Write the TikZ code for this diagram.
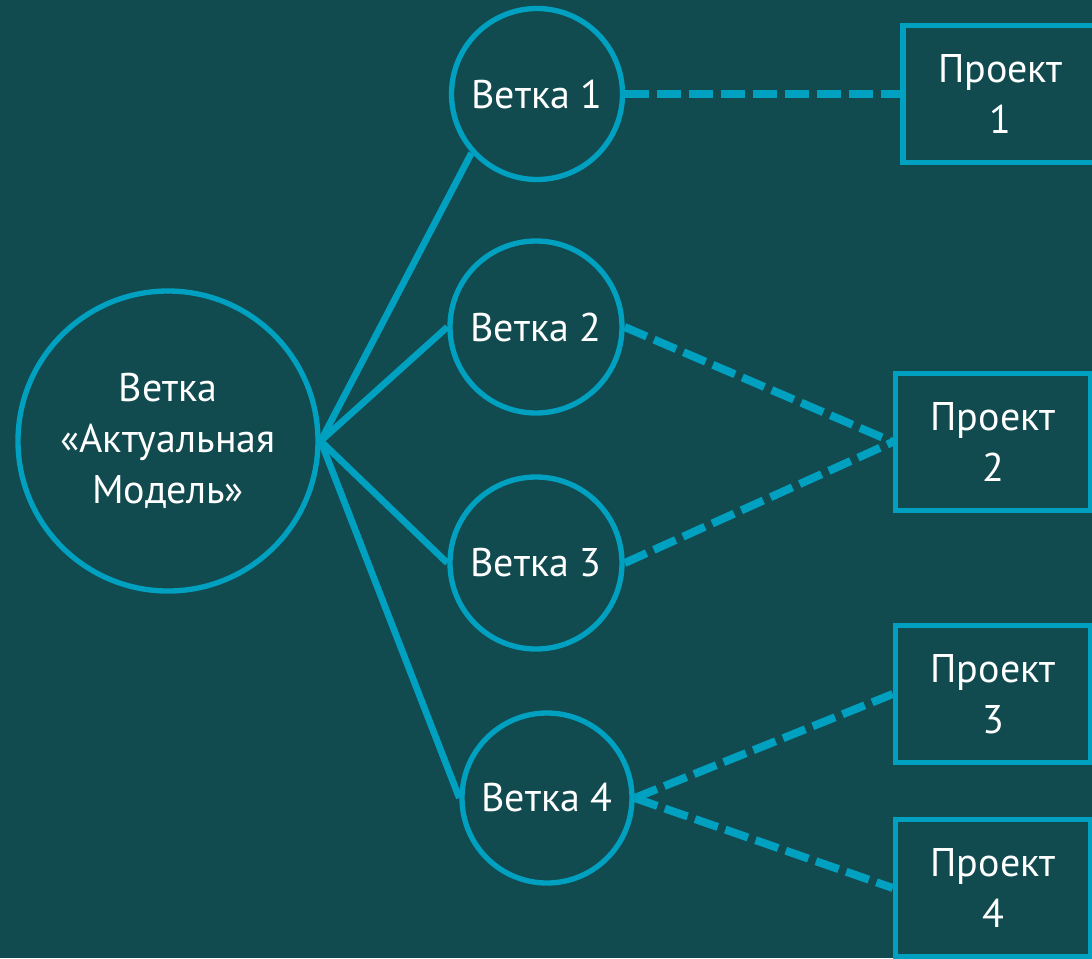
\documentclass[tikz,border=0pt]{standalone}
\usepackage{fontspec}
\setmainfont{PT Sans}
\definecolor{bg}{HTML}{114B50}
\definecolor{ln}{HTML}{00A0C0}
\begin{document}
\begin{tikzpicture}[x=0.75pt,y=-0.75pt,
  txt/.style={text=white,font=\fontsize{30}{38}\selectfont,align=center},
  branch/.style={circle,draw=ln,line width=4pt,inner sep=0pt,minimum size=#1*0.75pt,txt},
  proj/.style={rectangle,draw=ln,line width=4pt,inner sep=0pt,minimum width=195*0.75pt,minimum height=137*0.75pt,txt},
  solidlink/.style={draw=ln,line width=5pt},
  dashlink/.style={draw=ln,line width=6pt,dash pattern=on 18pt off 6pt}]
\fill[bg] (0,0) rectangle (1092,958);
\clip (0,0) rectangle (1092,958);
\useasboundingbox (0,0) rectangle (1092,958);
\node[branch=300] (m) at (168,441) {Ветка\\«Актуальная\\Модель»};
\node[branch=171] (b1) at (537,94) {Ветка 1};
\node[branch=172] (b2) at (536,327) {Ветка 2};
\node[branch=172] (b3) at (536,563) {Ветка 3};
\node[branch=170] (b4) at (547,798) {Ветка 4};
\node[proj] (p1) at (1000.5,94) {Проект\\1};
\node[proj] (p2) at (993,442) {Проект\\2};
\node[proj] (p3) at (993,694) {Проект\\3};
\node[proj] (p4) at (993,888) {Проект\\4};
\draw[solidlink] (m.east) -- (b1.222);
\draw[solidlink] (m.east) -- (b2.west);
\draw[solidlink] (m.east) -- (b3.west);
\draw[solidlink] (m.east) -- (b4.west);
\draw[dashlink] (b1.east) -- (p1.west);
\draw[dashlink] (b2.east) -- (p2.west);
\draw[dashlink] (b3.east) -- (p2.west);
\draw[dashlink] (b4.east) -- (p3.west);
\draw[dashlink] (b4.east) -- (p4.west);
\end{tikzpicture}
\end{document}
